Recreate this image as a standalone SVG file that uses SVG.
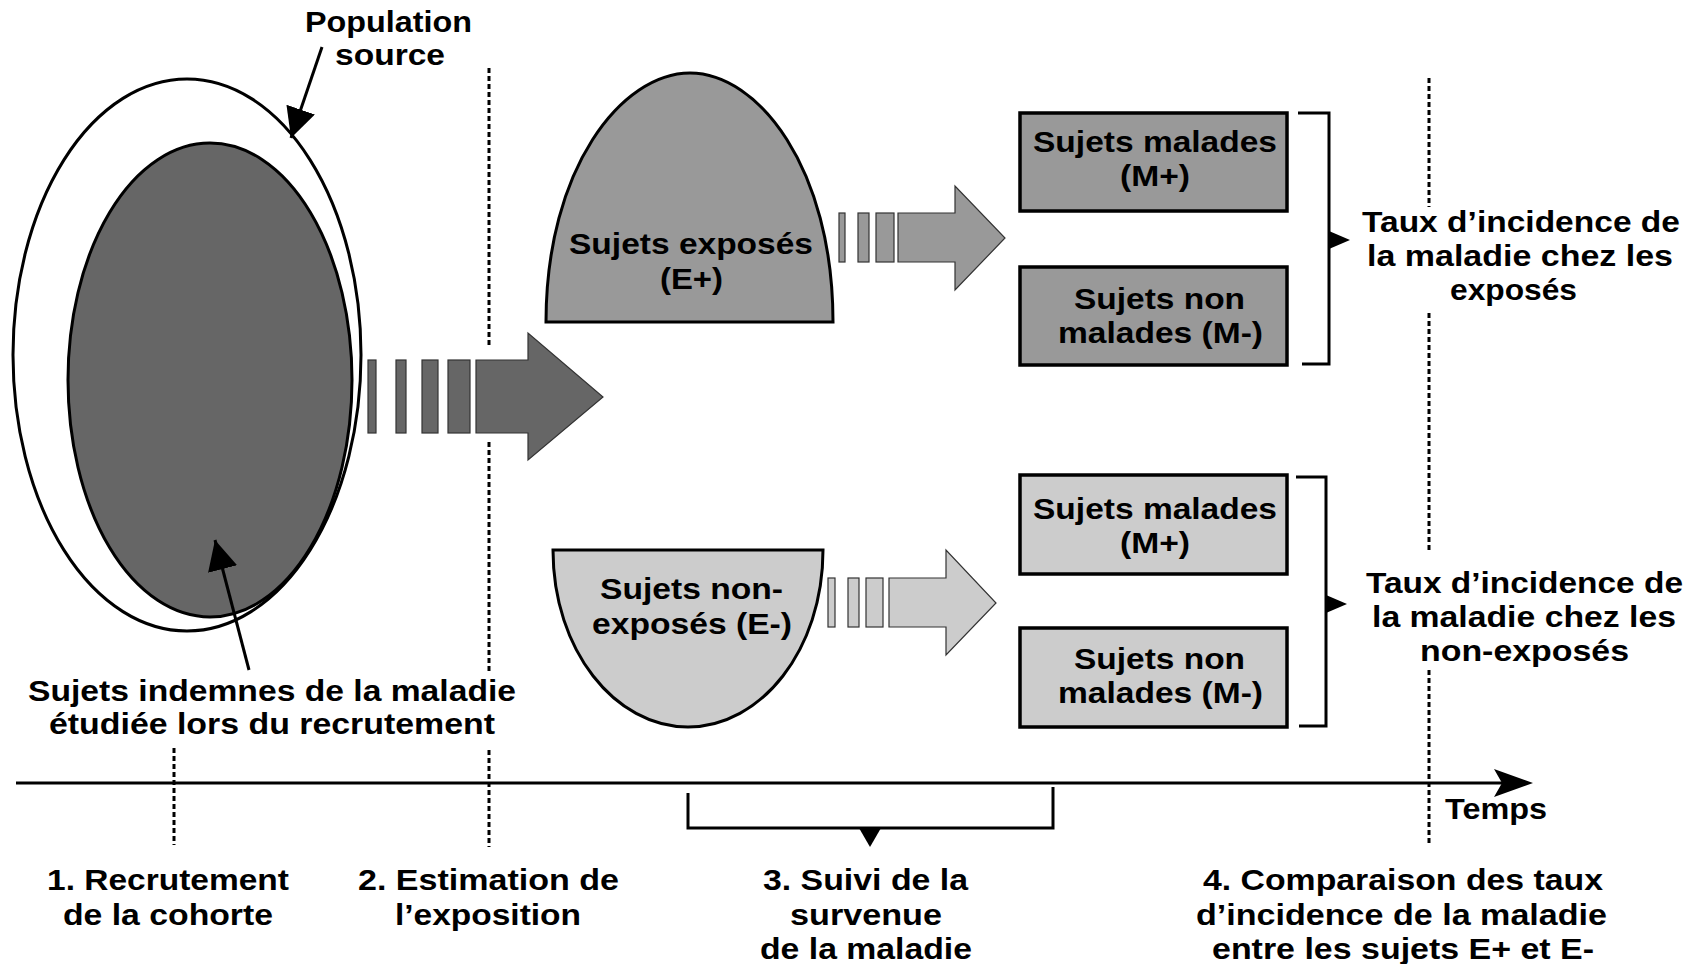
<svg xmlns="http://www.w3.org/2000/svg" width="1697" height="964" viewBox="0 0 1697 964">
<defs>
<style>
text{font-family:"Liberation Sans",Arial,sans-serif;font-weight:bold;font-size:30px;fill:#000}
.ln{stroke:#000;stroke-width:3;fill:none}
.dot{stroke:#000;stroke-width:3;stroke-dasharray:5 3;fill:none}
.dark{fill:#666}
.mid{fill:#999}
.light{fill:#ccc}
.shape{stroke:#000;stroke-width:3}
.box{stroke:#000;stroke-width:3.5}
.arr{stroke:#333;stroke-width:1.2}
.tri{fill:#000}
</style>
<marker id="ah" markerUnits="userSpaceOnUse" markerWidth="32" markerHeight="32" refX="30" refY="15" orient="auto" viewBox="0 0 32 32">
<path d="M0,0 L30,15 L0,30 Z" fill="#000"/>
</marker>
</defs>
<rect width="1697" height="964" fill="#fff"/>

<g id="dotted-lines">
<path class="dot" d="M489,68 V348 M489,442 V672 M489,750 V847"/>
<path class="dot" d="M174,748 V845"/>
<path class="dot" d="M1429,78 V207 M1429,313 V552 M1429,670 V845"/>
</g>

<g id="population-source">
<ellipse cx="187" cy="355" rx="174" ry="276" fill="#fff" class="shape"/>
<text x="305" y="32" textLength="167" lengthAdjust="spacingAndGlyphs">Population</text>
<text x="335" y="65" textLength="110" lengthAdjust="spacingAndGlyphs">source</text>
</g>

<g id="sujets-indemnes">
<ellipse cx="210" cy="380" rx="142" ry="237" class="dark shape"/>
<text x="28" y="701" textLength="488" lengthAdjust="spacingAndGlyphs">Sujets indemnes de la maladie</text>
<text x="49" y="734" textLength="446" lengthAdjust="spacingAndGlyphs">étudiée lors du recrutement</text>
</g>

<g id="exposes">
<path class="mid shape" d="M546,322 C546,168 622,73 690,73 C758,73 833,168 833,322 Z"/>
<text x="569" y="254" textLength="244" lengthAdjust="spacingAndGlyphs">Sujets exposés</text>
<text x="660" y="289" textLength="63" lengthAdjust="spacingAndGlyphs">(E+)</text>
</g>

<g id="non-exposes">
<path class="light shape" d="M553,550 C553,650 615,727 688,727 C761,727 823,650 823,550 Z"/>
<text x="600" y="599" textLength="183" lengthAdjust="spacingAndGlyphs">Sujets non-</text>
<text x="592" y="634" textLength="200" lengthAdjust="spacingAndGlyphs">exposés (E-)</text>
</g>

<g id="exp-malades">
<rect x="1020" y="113" width="267" height="98" class="mid box"/>
<text x="1033" y="152" textLength="244" lengthAdjust="spacingAndGlyphs">Sujets malades</text>
<text x="1120" y="186" textLength="70" lengthAdjust="spacingAndGlyphs">(M+)</text>
</g>

<g id="exp-non-malades">
<rect x="1020" y="267" width="267" height="98" class="mid box"/>
<text x="1074" y="309" textLength="171" lengthAdjust="spacingAndGlyphs">Sujets non</text>
<text x="1058" y="343" textLength="205" lengthAdjust="spacingAndGlyphs">malades (M-)</text>
</g>

<g id="nonexp-malades">
<rect x="1020" y="475" width="267" height="99" class="light box"/>
<text x="1033" y="519" textLength="244" lengthAdjust="spacingAndGlyphs">Sujets malades</text>
<text x="1120" y="553" textLength="70" lengthAdjust="spacingAndGlyphs">(M+)</text>
</g>

<g id="nonexp-non-malades">
<rect x="1020" y="628" width="267" height="99" class="light box"/>
<text x="1074" y="669" textLength="171" lengthAdjust="spacingAndGlyphs">Sujets non</text>
<text x="1058" y="703" textLength="205" lengthAdjust="spacingAndGlyphs">malades (M-)</text>
</g>

<g id="taux-exposes">
<text x="1362" y="232" textLength="318" lengthAdjust="spacingAndGlyphs">Taux d’incidence de</text>
<text x="1367" y="266" textLength="306" lengthAdjust="spacingAndGlyphs">la maladie chez les</text>
<text x="1450" y="300" textLength="127" lengthAdjust="spacingAndGlyphs">exposés</text>
</g>

<g id="taux-non-exposes">
<text x="1366" y="593" textLength="317" lengthAdjust="spacingAndGlyphs">Taux d’incidence de</text>
<text x="1372" y="627" textLength="304" lengthAdjust="spacingAndGlyphs">la maladie chez les</text>
<text x="1420" y="661" textLength="209" lengthAdjust="spacingAndGlyphs">non-exposés</text>
</g>

<g id="time-axis">
<line class="ln" x1="16" y1="783" x2="1502" y2="783"/>
<path class="tri" d="M1494,769 L1533,783 L1494,797 L1502,783 Z"/>
<text x="1445" y="819" textLength="102" lengthAdjust="spacingAndGlyphs">Temps</text>
</g>

<g id="step-labels">
<text x="47" y="890" textLength="242" lengthAdjust="spacingAndGlyphs">1. Recrutement</text>
<text x="63" y="925" textLength="210" lengthAdjust="spacingAndGlyphs">de la cohorte</text>
<text x="358" y="890" textLength="261" lengthAdjust="spacingAndGlyphs">2. Estimation de</text>
<text x="395" y="925" textLength="186" lengthAdjust="spacingAndGlyphs">l’exposition</text>
<text x="763" y="890" textLength="205" lengthAdjust="spacingAndGlyphs">3. Suivi de la</text>
<text x="790" y="925" textLength="152" lengthAdjust="spacingAndGlyphs">survenue</text>
<text x="760" y="959" textLength="212" lengthAdjust="spacingAndGlyphs">de la maladie</text>
<text x="1203" y="890" textLength="400" lengthAdjust="spacingAndGlyphs">4. Comparaison des taux</text>
<text x="1196" y="925" textLength="411" lengthAdjust="spacingAndGlyphs">d’incidence de la maladie</text>
<text x="1212" y="959" textLength="382" lengthAdjust="spacingAndGlyphs">entre les sujets E+ et E-</text>
</g>

<g id="connectors">
<g id="big-arrow" class="dark arr">
<rect x="368" y="360" width="8" height="73"/>
<rect x="396" y="360" width="10" height="73"/>
<rect x="422" y="360" width="16" height="73"/>
<rect x="448" y="360" width="22" height="73"/>
<path d="M476,360 H528 V333 L603,397 L528,460 V433 H476 Z"/>
</g>
<g id="arrow-exposes" class="mid arr">
<rect x="839" y="213" width="6" height="49"/>
<rect x="858" y="213" width="11" height="49"/>
<rect x="876" y="213" width="18" height="49"/>
<path d="M898,213 H955 V186 L1005,238 L955,290 V262 H898 Z"/>
</g>
<g id="arrow-non-exposes" class="light arr">
<rect x="828" y="578" width="7" height="49"/>
<rect x="848" y="578" width="11" height="49"/>
<rect x="866" y="578" width="17" height="49"/>
<path d="M889,578 H946 V550 L996,603 L946,655 V627 H889 Z"/>
</g>
<line class="ln" x1="322" y1="47" x2="291" y2="138" marker-end="url(#ah)"/>
<line class="ln" x1="249" y1="670" x2="215" y2="540" marker-end="url(#ah)"/>
<path class="ln" d="M1298,113 H1329 V364 H1302"/>
<path class="tri" d="M1329,231 L1350,240 L1329,249 Z"/>
<path class="ln" d="M1296,477 H1326 V726 H1299"/>
<path class="tri" d="M1326,595 L1347,604 L1326,613 Z"/>
<path class="ln" d="M688,793 V828 H1053 V787"/>
<path class="tri" d="M859,828 H881 L870,847 Z"/>
</g>
</svg>
